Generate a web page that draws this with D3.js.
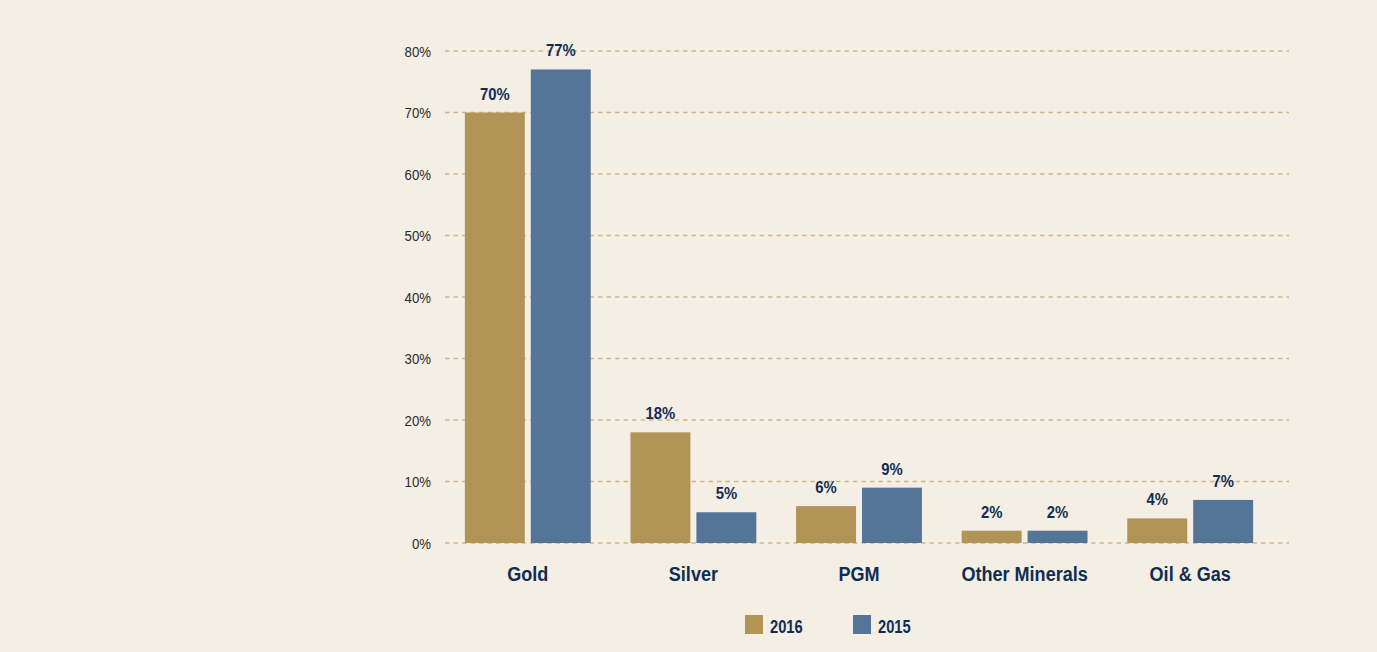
<!DOCTYPE html>
<html>
<head>
<meta charset="utf-8">
<script src="https://cdn.jsdelivr.net/npm/d3@7"></script>
<style>
  html, body { margin: 0; padding: 0; background: #f4eee4; }
  svg { display: block; }
  text { font-family: "Liberation Sans", Arial, sans-serif; }
</style>
</head>
<body>
<svg id="chart" width="1377" height="652"></svg>
<script>
// Share of value by commodity, two years
const categories = ["Gold", "Silver", "PGM", "Other Minerals", "Oil & Gas"];
const seriesNames = ["2016", "2015"];
const values2016 = [70, 18, 6, 2, 4];
const values2015 = [77, 5, 9, 2, 7];
const yTicks = [0, 10, 20, 30, 40, 50, 60, 70, 80];
const colors = ["#b29556", "#557598"];

const seriesValues = [values2016, values2015];
const navy = "#0f2d52";

const svg = d3.select("#chart");
svg.append("rect").attr("width", 1377).attr("height", 652).attr("fill", "#f4eee4");

const y = d3.scaleLinear().domain([0, 80]).range([543, 51]);
const x = d3.scaleBand().domain(categories).range([445, 1273])
  .paddingInner(0.24).paddingOuter(0.12);
const xs = d3.scaleBand().domain(seriesNames).range([0, x.bandwidth()])
  .paddingInner(0.0909).paddingOuter(0);

// Condensed-looking text: positioned by translate, squeezed horizontally
function condensed(sel, sx) {
  return sel.attr("transform", function () {
    const tx = +this.getAttribute("data-x"), ty = +this.getAttribute("data-y");
    return `translate(${tx},${ty}) scale(${sx},1)`;
  });
}

// Dashed gridlines
svg.append("g").selectAll("line")
  .data(yTicks).join("line")
  .attr("x1", 445).attr("x2", 1289)
  .attr("y1", d => y(d)).attr("y2", d => y(d))
  .attr("stroke", "#cbb98c").attr("stroke-width", 1.3)
  .attr("stroke-dasharray", "4.5,4");

// Tick labels
svg.append("g").selectAll("text")
  .data(yTicks).join("text")
  .attr("data-x", 431).attr("data-y", d => y(d) + 5.5)
  .attr("text-anchor", "end")
  .attr("fill", "#2b2b2b")
  .style("font-size", "15px")
  .text(d => d + "%")
  .call(condensed, 0.88);

// Bars and value labels
const groups = svg.append("g").selectAll("g")
  .data(categories).join("g")
  .attr("transform", d => `translate(${x(d)},0)`);

seriesNames.forEach((s, si) => {
  groups.append("rect")
    .attr("x", xs(s))
    .attr("width", xs.bandwidth())
    .attr("y", (d, i) => y(seriesValues[si][i]))
    .attr("height", (d, i) => y(0) - y(seriesValues[si][i]))
    .attr("fill", colors[si]);
  groups.append("text")
    .attr("data-x", xs(s) + xs.bandwidth() / 2)
    .attr("data-y", (d, i) => y(seriesValues[si][i]) - 13)
    .attr("text-anchor", "middle")
    .attr("fill", navy)
    .style("font-size", "16.5px")
    .style("font-weight", "bold")
    .text((d, i) => seriesValues[si][i] + "%")
    .call(condensed, 0.9);
});

// Category labels
svg.append("g").selectAll("text")
  .data(categories).join("text")
  .attr("data-x", d => x(d) + x.bandwidth() / 2)
  .attr("data-y", 581)
  .attr("text-anchor", "middle")
  .attr("fill", navy)
  .style("font-size", "21px")
  .style("font-weight", "bold")
  .text(d => d)
  .call(condensed, 0.86);

// Legend
const legendX = [745, 853];
const legend = svg.append("g").selectAll("g")
  .data(seriesNames).join("g")
  .attr("transform", (d, i) => `translate(${legendX[i]},615)`);
legend.append("rect").attr("width", 18).attr("height", 19)
  .attr("fill", (d, i) => colors[i]);
legend.append("text")
  .attr("data-x", 25).attr("data-y", 18)
  .attr("fill", navy)
  .style("font-size", "17.5px")
  .style("font-weight", "bold")
  .text(d => d)
  .call(condensed, 0.84);
</script>
</body>
</html>
